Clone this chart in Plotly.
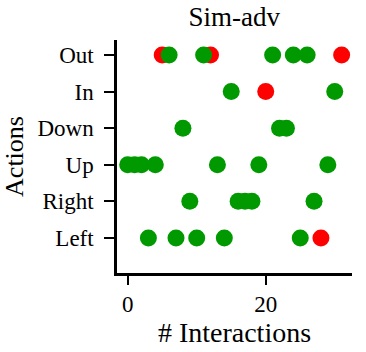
import plotly.graph_objects as go

actions = ["Left", "Right", "Up", "Down", "In", "Out"]

# action chosen at each interaction, in order
action_seq = ["Up", "Up", "Up", "Left", "Up", "Out", "Out", "Left", "Down", "Right",
              "Left", "Out", "Out", "Up", "Left", "In", "Right", "Right", "Right", "Up",
              "In", "Out", "Down", "Down", "Out", "Left", "Out", "Right", "Left", "Up",
              "In", "Out"]
# 1 = ok (green), 0 = failed (red)
success = [1, 1, 1, 1, 1, 0, 1, 1, 1, 1,
           1, 1, 0, 1, 1, 1, 1, 1, 1, 1,
           0, 1, 1, 1, 1, 1, 1, 1, 0, 1,
           1, 0]

steps = list(range(len(action_seq)))

fig = go.Figure()
for flag, col in [(0, "#ff0000"), (1, "#009900")]:
    xs = [s for s, ok in zip(steps, success) if ok == flag]
    ys = [a for a, ok in zip(action_seq, success) if ok == flag]
    fig.add_trace(go.Scatter(x=xs, y=ys, mode="markers",
                             marker=dict(size=17, color=col, line_width=0),
                             showlegend=False))

font = "Liberation Serif"
fig.update_layout(
    width=366, height=352,
    margin=dict(l=117, r=14, t=40, b=79),
    plot_bgcolor="white", paper_bgcolor="white",
    font=dict(family=font, size=23, color="black"),
    title=dict(text="Sim-adv", x=0.64, xanchor="center", y=0.953, yanchor="middle",
               font=dict(family=font, size=27, color="black")),
)
fig.update_xaxes(
    range=[-1.55, 32.5], tickvals=[0, 20], showgrid=False, zeroline=False,
    showline=True, linecolor="black", linewidth=2.5,
    ticks="outside", ticklen=9, tickwidth=2, tickcolor="black",
    tickfont=dict(family=font, size=23), automargin=False,
    title=dict(text="# Interactions", font=dict(family=font, size=28), standoff=6),
)
fig.update_yaxes(
    type="category", categoryorder="array", categoryarray=actions,
    range=[-0.96, 5.41], showgrid=False, zeroline=False,
    showline=True, linecolor="black", linewidth=2.5,
    ticks="outside", ticklen=10, tickwidth=2, tickcolor="black",
    tickfont=dict(family=font, size=23), ticklabelstandoff=6, automargin=False,
    title=dict(text="Actions", font=dict(family=font, size=26), standoff=16),
)

# drop the default body margin so the figure sits at the page corner
fig.write_html("out.html", config={"displayModeBar": False},
               post_script="document.body.style.margin='0';")
